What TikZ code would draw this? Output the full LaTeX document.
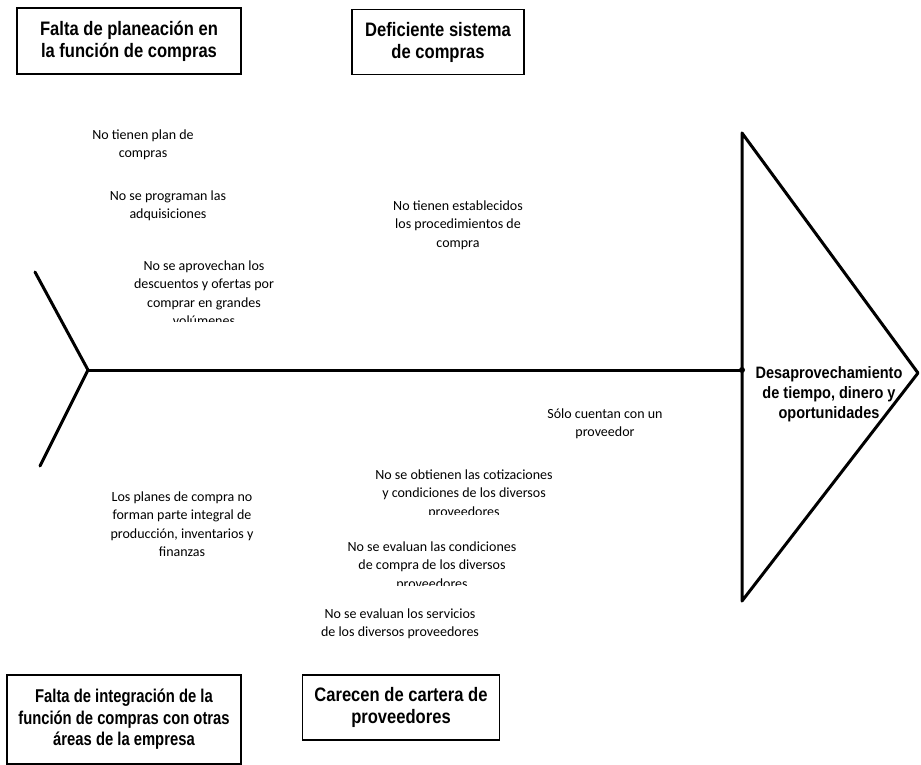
\documentclass[tikz,border=0pt]{standalone}
\usepackage{fontspec}
\newfontfamily\causefont{Liberation Sans}[FakeStretch=0.85]
\newfontfamily\narrowcausefont{Liberation Sans}[FakeStretch=0.8]
\newfontfamily\effectfont{Liberation Sans}[FakeStretch=0.88]
\newfontfamily\notefont{Carlito}
\tikzset{
  causebox/.style={draw, line width=1.1pt, align=center, inner sep=0pt,
    font=\causefont\bfseries\fontsize{19.5}{22}\selectfont},
  widecause/.style={causebox,
    font=\narrowcausefont\bfseries\fontsize{18.5}{21.5}\selectfont},
  note/.style={align=center, inner sep=0pt,
    font=\notefont\fontsize{14}{18.5}\selectfont},
  bone/.style={line width=3pt, line cap=round, line join=round},
  effect/.style={align=center, inner sep=0pt,
    font=\effectfont\bfseries\fontsize{16.5}{20}\selectfont}
}
\begin{document}
\begin{tikzpicture}[x=1pt, y=-1pt]
  \useasboundingbox (0,0) rectangle (921,765);

  % main categories
  \node[causebox, minimum width=224pt, minimum height=66pt] (planeacion) at (129,41)
    {Falta de planeación en\\la función de compras};
  \node[causebox, minimum width=172pt, minimum height=65pt] (sistema) at (438,42)
    {Deficiente sistema\\de compras};
  \node[widecause, minimum width=234pt, minimum height=89pt] (integracion) at (124,719.5)
    {Falta de integración de la\\función de compras con otras\\áreas de la empresa};
  \node[causebox, minimum width=197pt, minimum height=65pt] (cartera) at (401,707.5)
    {Carecen de cartera de\\proveedores};

  % fish skeleton
  \coordinate (tail) at (88,370);
  \coordinate (tailup) at (35,272);
  \coordinate (taildown) at (40,466);
  \coordinate (headtop) at (742,133);
  \coordinate (headbottom) at (742,601);
  \coordinate (headtip) at (918,373);
  \coordinate (headin) at (742,370);
  \draw[bone] (tailup) -- (tail) -- (taildown);
  \draw[bone] (tail) -- (headin);
  \fill (headin) circle (3pt);
  \draw[bone] (headtop) -- (headtip) -- (headbottom) -- cycle;

  % effect
  \node[effect] (efecto) at (829,394)
    {Desaprovechamiento\\de tiempo, dinero y\\oportunidades};

  % causes above the spine
  \node[note] (c1) at (143,145) {No tienen plan de\\compras};
  \node[note] (c2) at (168,206) {No se programan las\\adquisiciones};
  \begin{scope}
    \clip (100,250) rectangle (330,321);
    \node[note] (c3) at (204,293)
      {No se aprovechan los\\descuentos y ofertas por\\comprar en grandes\\volúmenes};
  \end{scope}
  \node[note] (c4) at (458,225)
    {No tienen establecidos\\los procedimientos de\\compra};

  % causes below the spine
  \node[note] (c5) at (182,524)
    {Los planes de compra no\\forman parte integral de\\producción, inventarios y\\finanzas};
  \node[note] (c6) at (605,424) {Sólo cuentan con un\\proveedor};
  \begin{scope}
    \clip (360,460) rectangle (680,514);
    \node[note] (c7) at (464,494)
      {No se obtienen las cotizaciones\\y condiciones de los diversos\\proveedores};
  \end{scope}
  \begin{scope}
    \clip (320,535) rectangle (560,585);
    \node[note] (c8) at (432,566)
      {No se evaluan las condiciones\\de compra de los diversos\\proveedores};
  \end{scope}
  \node[note] (c9) at (400,624)
    {No se evaluan los servicios\\de los diversos proveedores};
\end{tikzpicture}
\end{document}
